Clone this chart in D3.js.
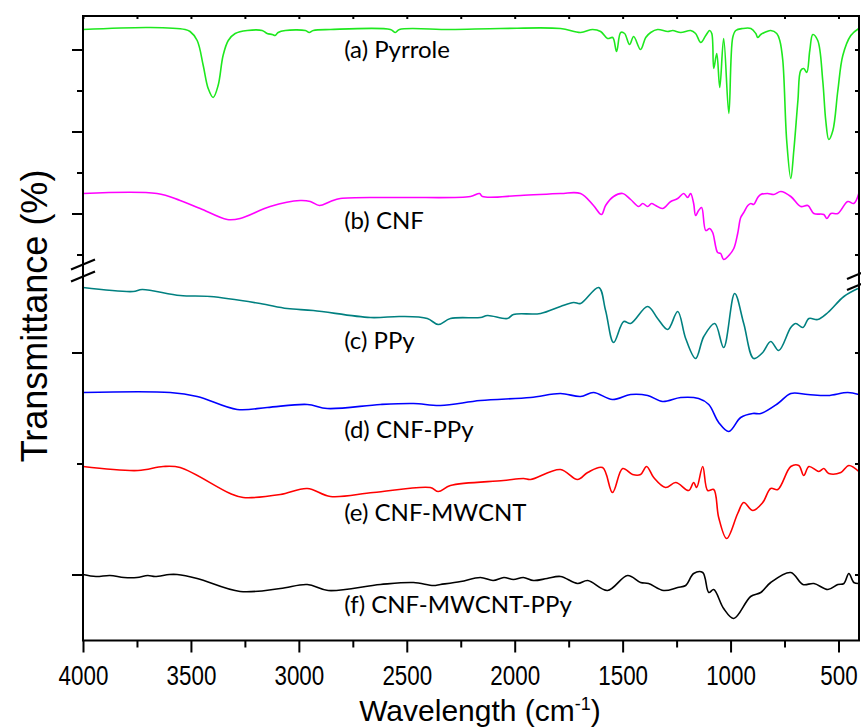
<!DOCTYPE html>
<html>
<head>
<meta charset="utf-8">
<script src="https://cdn.jsdelivr.net/npm/d3@7"></script>
<style>
  body { margin: 0; background: #fff; }
  svg { display: block; }
</style>
</head>
<body>
<svg></svg>
<script>
// wavenumber (cm-1) and offset transmittance (a.u.)
let pyrroleX = [4000, 3689, 3527, 3504, 3471, 3443, 3420, 3397, 3374, 3351, 3327, 3295, 3239, 3170, 3147, 3123, 3110, 3096, 3063, 2970, 2952, 2933, 2854, 2576, 2553, 2534, 2298, 2066, 1788, 1695, 1639, 1602, 1570, 1546, 1528, 1509, 1491, 1468, 1449, 1417, 1393, 1370, 1338, 1291, 1268, 1231, 1185, 1162, 1138, 1115, 1097, 1087, 1078, 1064, 1050, 1032, 1008, 990, 976, 944, 906, 883, 874, 860, 832, 814, 786, 772, 758, 740, 721, 707, 688, 675, 661, 647, 633, 619, 596, 573, 559, 545, 526, 503, 480, 443, 406];
let pyrroleY = [611, 613, 611, 609, 600, 575, 552, 543, 555, 585, 600, 607, 610, 610, 607, 606, 605, 608, 610, 610, 608, 610, 611, 611, 608, 611, 611, 612, 612, 608, 611, 609, 602, 603, 589, 608, 607, 596, 604, 591, 603, 608, 611, 609, 610, 608, 610, 607, 598, 605, 610, 607, 572, 587, 553, 602, 527, 603, 610, 612, 612, 607, 603, 606, 609, 610, 607, 600, 580, 500, 462, 490, 540, 570, 572, 568, 590, 606, 600, 560, 520, 501, 510, 550, 585, 605, 612];

let cnfX = [4000, 3657, 3550, 3457, 3332, 3272, 3133, 2994, 2947, 2905, 2854, 2808, 2530, 2205, 2163, 2149, 1973, 1788, 1695, 1635, 1598, 1579, 1542, 1500, 1463, 1426, 1407, 1384, 1366, 1347, 1315, 1277, 1245, 1217, 1199, 1185, 1171, 1162, 1148, 1134, 1115, 1097, 1083, 1060, 1046, 1032, 1008, 985, 967, 953, 939, 920, 906, 893, 874, 860, 828, 800, 767, 721, 675, 642, 614, 568, 554, 535, 503, 457, 429, 406];
let cnfY = [447, 447, 440, 432, 421, 422, 434, 440, 439, 435, 439, 442, 443, 444, 447, 444, 445, 447, 447, 435, 426, 435, 444, 447, 441, 434, 437, 434, 437, 435, 432, 439, 442, 447, 443, 447, 437, 425, 430, 433, 410, 412, 408, 388, 387, 381, 385, 392, 407, 423, 428, 435, 437, 436, 443, 446, 447, 446, 449, 444, 434, 435, 427, 426, 422, 427, 427, 439, 437, 447];

let ppyX = [4000, 3768, 3726, 3550, 3411, 3179, 3054, 2933, 2669, 2530, 2405, 2354, 2298, 2159, 2126, 2034, 2006, 1880, 1788, 1727, 1695, 1611, 1579, 1542, 1495, 1463, 1384, 1338, 1291, 1245, 1208, 1162, 1124, 1073, 1032, 981, 939, 893, 851, 814, 777, 721, 698, 665, 637, 596, 549, 475, 410];
let ppyY = [353, 349, 351, 345, 344, 337, 332, 330, 323, 324, 322, 316, 322, 323, 325, 322, 326, 327, 334, 338, 337, 353, 330, 298, 319, 317, 334, 322, 311, 329, 302, 282, 304, 317, 293, 347, 317, 282, 288, 299, 290, 313, 317, 313, 322, 321, 328, 344, 352];

let cnfPpyX = [4000, 3596, 3471, 3286, 3147, 2961, 2868, 2622, 2469, 2344, 2159, 1927, 1788, 1695, 1635, 1547, 1463, 1384, 1315, 1231, 1148, 1101, 1055, 1008, 953, 897, 860, 781, 721, 642, 549, 457, 406];
let cnfPpyY = [248, 248, 244, 231, 233, 236, 232, 236, 237, 235, 240, 243, 247, 244, 248, 241, 246, 245, 239, 243, 242, 236, 218, 209, 223, 227, 227, 237, 247, 246, 245, 248, 246];

let cnfMwcntX = [4000, 3745, 3629, 3550, 3318, 3258, 3086, 2961, 2854, 2655, 2391, 2354, 2298, 2052, 1959, 1927, 1788, 1709, 1662, 1593, 1547, 1500, 1454, 1417, 1389, 1356, 1301, 1254, 1194, 1171, 1157, 1129, 1106, 1078, 1055, 1018, 967, 939, 897, 851, 814, 781, 721, 684, 661, 637, 591, 568, 545, 489, 452, 406];
let cnfMwcntY = [174, 170, 174, 173, 147, 143, 146, 152, 144, 148, 153, 149, 155, 160, 162, 161, 171, 161, 168, 173, 148, 172, 166, 166, 174, 163, 153, 158, 150, 158, 153, 174, 150, 151, 123, 102, 127, 138, 130, 138, 152, 151, 174, 175, 165, 174, 169, 172, 167, 168, 175, 169];

let allX = [4000, 3940, 3875, 3810, 3750, 3700, 3666, 3600, 3564, 3471, 3272, 3086, 2961, 2864, 2622, 2469, 2377, 2344, 2250, 2159, 2100, 2050, 2006, 1960, 1913, 1850, 1788, 1709, 1662, 1570, 1477, 1417, 1380, 1310, 1245, 1208, 1171, 1129, 1101, 1078, 1032, 985, 907, 860, 814, 721, 665, 614, 549, 503, 475, 452, 429, 406];
let allY = [66, 64, 65, 63, 63, 65, 64, 66, 66, 62, 49, 52, 56, 50, 56, 58, 55, 56, 59, 63, 60, 63, 61, 63, 60, 62, 64, 57, 60, 50, 65, 58, 57, 50, 53, 55, 67, 68, 48, 51, 32, 22, 44, 48, 58, 68, 56, 57, 51, 56, 57, 67, 58, 57];

let seriesNames = ['(a) Pyrrole', '(b) CNF', '(c) PPy', '(d) CNF-PPy', '(e) CNF-MWCNT', '(f) CNF-MWCNT-PPy'];
let seriesColors = ['#1ee81e', '#ff00ff', '#008080', '#0000ff', '#ff0000', '#000000'];
let labelLevels = [583, 412, 292, 203, 120, 28]; // label baselines, same a.u.

let xMajor = [4000, 3500, 3000, 2500, 2000, 1500, 1000, 500];
let xMinor = [3750, 3250, 2750, 2250, 1750, 1250, 750];
let yMajor = [591, 509, 427, 288, 66];
let yMinor = [550, 468, 386, 177];

let width = 861;
let height = 727;
let padLeft = 83, padRight = 859, padTop = 16, padBottom = 640.5;

let svg = d3.select('svg')
            .attr('width', width)
            .attr('height', height);

let xScale = d3.scaleLinear()
               .domain([4000, 405])
               .range([padLeft, padRight]);

let yScale = d3.scaleLinear()
               .domain([0, 624.5])
               .range([padBottom, padTop]);

let series = [
    [pyrroleX, pyrroleY],
    [cnfX, cnfY],
    [ppyX, ppyY],
    [cnfPpyX, cnfPpyY],
    [cnfMwcntX, cnfMwcntY],
    [allX, allY]
];

let line = d3.line()
             .x(d => xScale(d[0]))
             .y(d => yScale(d[1]))
             .curve(d3.curveCatmullRom.alpha(0.5));

series.forEach((s, i) => {
    let pts = s[0].map((x, j) => [x, s[1][j]]);
    svg.append('path')
       .datum(pts)
       .attr('d', line)
       .attr('fill', 'none')
       .attr('stroke', seriesColors[i])
       .attr('stroke-width', 1.6)
       .attr('stroke-linejoin', 'round');

    svg.append('text')
       .attr('x', xScale(2790))
       .attr('y', yScale(labelLevels[i]))
       .attr('font-family', 'Lato, "Open Sans", sans-serif')
       .attr('font-size', 24)
       .attr('fill', '#000')
       .text(seriesNames[i]);
});

// frame
svg.append('rect')
   .attr('x', padLeft)
   .attr('y', padTop)
   .attr('width', padRight - padLeft)
   .attr('height', padBottom - padTop)
   .attr('fill', 'none')
   .attr('stroke', '#000')
   .attr('stroke-width', 2);

// bottom axis
let xAxis = d3.axisBottom(xScale)
              .tickValues(xMajor)
              .tickFormat(d3.format('d'))
              .tickSize(12)
              .tickSizeOuter(0)
              .tickPadding(13);

let gx = svg.append('g')
            .attr('transform', `translate(0, ${padBottom})`)
            .call(xAxis);
gx.select('.domain').remove();
gx.selectAll('line').attr('stroke-width', 2);
gx.selectAll('text')
  .attr('font-family', '"Liberation Sans", Arial, sans-serif')
  .attr('font-size', 28)
  .attr('fill', '#000')
  .attr('transform', 'scale(0.8,1)');

svg.append('g')
   .attr('transform', `translate(0, ${padBottom})`)
   .call(d3.axisBottom(xScale).tickValues(xMinor).tickSize(7).tickFormat(''))
   .call(g => g.select('.domain').remove())
   .selectAll('line').attr('stroke-width', 2);

// top axis, inward ticks
svg.append('g')
   .attr('transform', `translate(0, ${padTop})`)
   .call(d3.axisBottom(xScale).tickValues(xMajor.concat(xMinor)).tickSize(3).tickFormat(''))
   .call(g => g.select('.domain').remove())
   .selectAll('line').attr('stroke-width', 2);

// left axis
svg.append('g')
   .attr('transform', `translate(${padLeft}, 0)`)
   .call(d3.axisLeft(yScale).tickValues(yMajor).tickSize(11).tickFormat(''))
   .call(g => g.select('.domain').remove())
   .selectAll('line').attr('stroke-width', 2);

svg.append('g')
   .attr('transform', `translate(${padLeft}, 0)`)
   .call(d3.axisLeft(yScale).tickValues(yMinor).tickSize(6).tickFormat(''))
   .call(g => g.select('.domain').remove())
   .selectAll('line').attr('stroke-width', 2);

// right axis, inward ticks
svg.append('g')
   .attr('transform', `translate(${padRight}, 0)`)
   .call(d3.axisLeft(yScale).tickValues(yMajor.concat(yMinor)).tickSize(4).tickFormat(''))
   .call(g => g.select('.domain').remove())
   .selectAll('line').attr('stroke-width', 2);

// axis break marks
let breakY = yScale(370);
[-6, 6].forEach(o => {
    svg.append('line')
       .attr('x1', padLeft - 12).attr('y1', breakY + o + 5)
       .attr('x2', padLeft + 12).attr('y2', breakY + o - 5)
       .attr('stroke', '#000').attr('stroke-width', 2.2);
});
let breakYR = yScale(361);
[-5.5, 5.5].forEach(o => {
    svg.append('line')
       .attr('x1', padRight - 12).attr('y1', breakYR + o + 5)
       .attr('x2', padRight + 12).attr('y2', breakYR + o - 5)
       .attr('stroke', '#000').attr('stroke-width', 2.2);
});

// axis titles
svg.append('text')
   .attr('transform', `translate(47, 316) rotate(-90)`)
   .attr('text-anchor', 'middle')
   .attr('font-family', '"Liberation Sans", Arial, sans-serif')
   .attr('font-size', 36)
   .text('Transmittance (%)');

let xTitle = svg.append('text')
                .attr('x', 480)
                .attr('y', 721)
                .attr('text-anchor', 'middle')
                .attr('font-family', '"Liberation Sans", Arial, sans-serif')
                .attr('font-size', 30);
xTitle.append('tspan').text('Wavelength (cm');
xTitle.append('tspan').attr('dy', -11).attr('font-size', 18).text('-1');
xTitle.append('tspan').attr('dy', 11).text(')');
</script>
</body>
</html>
